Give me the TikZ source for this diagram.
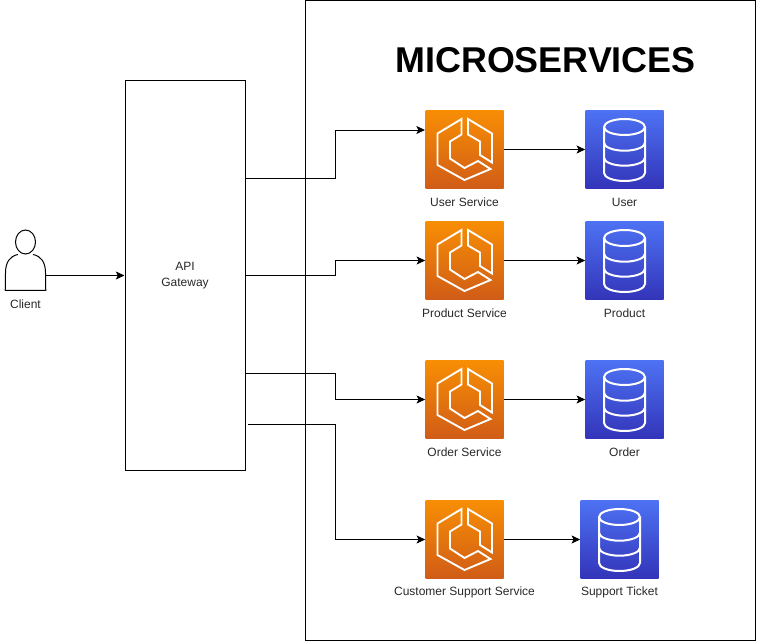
\documentclass[tikz,border=0pt]{standalone}
\usepackage{fontspec}
\setmainfont{Liberation Sans}
\usetikzlibrary{arrows.meta}
\definecolor{ecstop}{RGB}{247,142,4}
\definecolor{ecsbottom}{RGB}{208,92,23}
\definecolor{dbtop}{RGB}{77,114,243}
\definecolor{dbbottom}{RGB}{51,52,185}
\definecolor{captiontext}{RGB}{40,40,40}

\tikzset{
    frame/.style = {draw=black, line width=0.75pt, inner sep=0pt},
    servicebox/.style = {minimum size=58.5pt, inner sep=0pt, top color=ecstop, bottom color=ecsbottom},
    storebox/.style = {minimum size=58.5pt, inner sep=0pt, top color=dbtop, bottom color=dbbottom},
    caption/.style = {text=captiontext, font=\fontsize{9}{11}\selectfont, inner sep=0pt},
    link/.style = {line width=0.75pt, -{Stealth[length=6.5pt,width=6pt,inset=1.5pt]}},
    ecsicon/.pic = {
        \draw[white, line width=1.4pt, line join=miter]
            (-3,-30.5) -- (-27,-16) -- (-27,15.5) -- (0,30.5) -- (26,19.5) -- (13.5,11.5)
            -- (0,18.5) -- (-14.5,9) -- (-14.5,-8) -- (-3,-15) -- cycle
            (3.5,-30.5) -- (3.5,-15) -- (15.5,-8) -- (15.5,5.5) -- (27.5,13) -- (27.5,-16) -- cycle;
    },
    dbicon/.pic = {
        \draw[white, line width=1.5pt]
            (0,-22.5) ellipse [x radius=20.5, y radius=8]
            (-20.5,-22.5) -- (-20.5,23.5) arc [start angle=180, delta angle=-180, x radius=20.5, y radius=8] -- (20.5,-22.5)
            (-20.5,-6.8) arc [start angle=180, delta angle=-180, x radius=20.5, y radius=8]
            (-20.5,8.2) arc [start angle=180, delta angle=-180, x radius=20.5, y radius=8];
    }
}

\begin{document}
\begin{tikzpicture}[x=0.75pt, y=-0.75pt]
    \useasboundingbox (0,0) rectangle (757,642);

    \node[frame, minimum width=337.5pt, minimum height=479.5pt] (microservices) at (530,320.5) {};
    \node[font=\bfseries\fontsize{26.9}{32}\selectfont, inner sep=0pt] (title) at (545.5,60.5) {MICROSERVICES};

    % client
    \node[minimum width=30pt, minimum height=45pt, inner sep=0pt] (client) at (25.5,260) {};
    \draw[line width=0.75pt] (client.south west) -- (5.5,273)
        .. controls (5.5,262) and (10,256) .. (18,254.5)
        (client.south west) -- (client.south east) -- (45.5,273)
        .. controls (45.5,262) and (41,256) .. (33,254.5);
    \draw[line width=0.75pt] (25.5,242) ellipse [x radius=10, y radius=12];
    \node[caption] (clientlabel) at (25.5,304.5) {Client};

    \node[frame, minimum width=90pt, minimum height=292pt, align=center, font=\fontsize{9}{12}\selectfont, text=captiontext] (gateway) at (185,275.5) {API\\Gateway};

    % services
    \node[servicebox] (userservice) at (464.5,149.5) {};
    \node[servicebox] (productservice) at (464.5,260.5) {};
    \node[servicebox] (orderservice) at (464.5,399.5) {};
    \node[servicebox] (supportservice) at (464.5,539.5) {};
    \pic at (userservice) {ecsicon};
    \pic at (productservice) {ecsicon};
    \pic at (orderservice) {ecsicon};
    \pic at (supportservice) {ecsicon};
    \node[caption] (userservicelabel) at (464.5,202) {User Service};
    \node[caption] (productservicelabel) at (464.5,313) {Product Service};
    \node[caption] (orderservicelabel) at (464.5,452) {Order Service};
    \node[caption] (supportservicelabel) at (464.5,592) {Customer Support Service};

    % databases
    \node[storebox] (userdb) at (624.5,149.5) {};
    \node[storebox] (productdb) at (624.5,260.5) {};
    \node[storebox] (orderdb) at (624.5,399.5) {};
    \node[storebox] (supportdb) at (619.5,539.5) {};
    \pic at (userdb) {dbicon};
    \pic at (productdb) {dbicon};
    \pic at (orderdb) {dbicon};
    \pic at (supportdb) {dbicon};
    \node[caption] (userdblabel) at (624.5,202) {User};
    \node[caption] (productdblabel) at (624.5,313) {Product};
    \node[caption] (orderdblabel) at (624.5,452) {Order};
    \node[caption] (supportdblabel) at (619.5,592) {Support Ticket};

    % connectors
    \coordinate (userstart) at (245,178);
    \coordinate (userend) at (425,130);
    \coordinate (productstart) at (245,275);
    \coordinate (orderstart) at (245,373);
    \coordinate (supportstart) at (248,424);
    \draw[link] (client.east |- gateway.west) -- (gateway.west);
    \draw[link] (userstart) -| (335,130) -- (userend);
    \draw[link] (productstart) -| (335,260.5) -- (productservice.west);
    \draw[link] (orderstart) -| (335,399.5) -- (orderservice.west);
    \draw[link] (supportstart) -| (335,539.5) -- (supportservice.west);
    \draw[link] (userservice) -- (userdb);
    \draw[link] (productservice) -- (productdb);
    \draw[link] (orderservice) -- (orderdb);
    \draw[link] (supportservice) -- (supportdb);
\end{tikzpicture}
\end{document}
